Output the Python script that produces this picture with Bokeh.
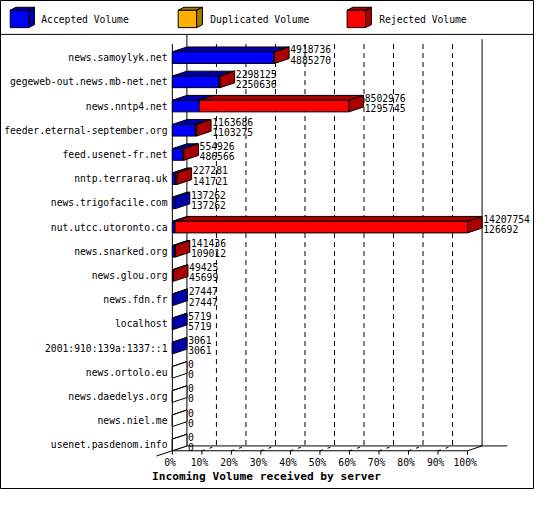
from bokeh.plotting import figure
from bokeh.models import Range1d, Span
from bokeh.core.properties import value
from bokeh.embed import file_html
from bokeh.resources import INLINE

# ---------------- data ----------------
servers = ["news.samoylyk.net", "gegeweb-out.news.mb-net.net", "news.nntp4.net",
           "feeder.eternal-september.org", "feed.usenet-fr.net", "nntp.terraraq.uk",
           "news.trigofacile.com", "nut.utcc.utoronto.ca", "news.snarked.org",
           "news.glou.org", "news.fdn.fr", "localhost", "2001:910:139a:1337::1",
           "news.ortolo.eu", "news.daedelys.org", "news.niel.me", "usenet.pasdenom.info"]
total_volume = [4918736, 2298125, 8502976, 1163686, 554926, 227281, 137262, 14207754,
                141436, 49425, 27447, 5719, 3061, 0, 0, 0, 0]
accepted_volume = [4885270, 2250636, 1295745, 1103275, 486566, 141721, 137262, 126692,
                   109012, 45699, 27447, 5719, 3061, 0, 0, 0, 0]
tick_values = [0, 10, 20, 30, 40, 50, 60, 70, 80, 90, 100]
tick_labels = [f"{v}%" for v in tick_values]
series_names = ["Accepted Volume", "Duplicated Volume", "Rejected Volume"]
chart_title = "Incoming Volume received by server"

# ---------------- style / geometry ----------------
W, H = 534, 489
REF_W, REF_H = 550, 505
SCALE = W / REF_W
X0, PX_PER_PCT = 177.0, 3.04
ROW0, PITCH = 59.0, 25.0


def fx(px):
    return (px - X0) / PX_PER_PCT


def fy(py):
    return (py - ROW0) / PITCH


DX = 15 / PX_PER_PCT
DY = -5 / PITCH
HALF = 6 / PITCH
FONT = value("DejaVu Sans Mono")
FS = f"{10 * SCALE:.1f}px"

BLUE, DBLUE = "#0000FF", "#0000AA"
ORANGE, DORANGE = "#FFB000", "#A87800"
RED, DRED = "#FF0000", "#AA0000"
face_colors = [(BLUE, DBLUE), (ORANGE, DORANGE), (RED, DRED)]

p = figure(width=W, height=H,
           x_range=Range1d(fx(0), fx(REF_W)),
           y_range=Range1d(fy(REF_H), fy(0)),
           output_backend="svg", toolbar_location=None,
           x_axis_location=None, y_axis_location=None,
           min_border=0, outline_line_color="black", outline_line_width=1,
           background_fill_color="white", border_fill_color="white")
p.grid.visible = False

yff = fy(465)          # front floor
yfb = yff + DY         # back floor
ytop_front = fy(45)

# back wall dashed grid
inner = tick_values[1:-1]
p.segment(x0=[t + DX for t in inner], y0=[ytop_front] * len(inner),
          x1=[t + DX for t in inner], y1=[yfb] * len(inner),
          line_color="black", line_width=1, line_dash="5 4")
# floor diagonals (dashed)
p.segment(x0=inner, y0=[yff] * len(inner), x1=[t + DX for t in inner], y1=[yfb] * len(inner),
          line_color="black", line_width=1, line_dash="3 5")

# frame lines
seg_x0 = [DX, tick_values[-1] + DX, DX, tick_values[0], tick_values[-1], -1.1 * DX, 0]
seg_y0 = [fy(35), fy(40), yfb, yff, yff, yff - 1.1 * DY, ytop_front]
seg_x1 = [DX, tick_values[-1] + DX, fx(522), tick_values[-1], tick_values[-1] + DX, DX, 0]
seg_y1 = [yfb, yfb, yfb, yff, yfb, yfb, yff]
p.segment(x0=seg_x0, y0=seg_y0, x1=seg_x1, y1=seg_y1, line_color="black", line_width=1)
# ticks
p.segment(x0=tick_values, y0=[yff] * len(tick_values), x1=tick_values,
          y1=[yff + 4 / PITCH] * len(tick_values), line_color="black", line_width=1)
p.text(x=[t - 0.8 for t in tick_values], y=[fy(477)] * len(tick_values), text=tick_labels,
       text_font=FONT, text_font_size=FS, text_align="center", text_baseline="middle",
       text_color="black")

# ---------------- bars ----------------
vmax = max(total_volume)
xs, ys, fills = [], [], []
for i, (t, a) in enumerate(zip(total_volume, accepted_volume)):
    pa = a / vmax * 100
    pt = t / vmax * 100
    yt, yb = i - HALF, i + HALF
    rejected = t - a
    # top faces
    xs.append([0, pa, pa + DX, DX]); ys.append([yt, yt, yt + DY, yt + DY]); fills.append(DBLUE if t > 0 else "white")
    if rejected > 0:
        xs.append([pa, pt, pt + DX, pa + DX]); ys.append([yt, yt, yt + DY, yt + DY]); fills.append(DRED)
    # front faces
    xs.append([0, pa, pa, 0]); ys.append([yt, yt, yb, yb]); fills.append(BLUE)
    if rejected > 0:
        xs.append([pa, pt, pt, pa]); ys.append([yt, yt, yb, yb]); fills.append(RED)
    # side face
    side = DRED if rejected > 0 else (DBLUE if t > 0 else "white")
    xs.append([pt, pt + DX, pt + DX, pt]); ys.append([yt, yt + DY, yb + DY, yb]); fills.append(side)

p.patches(xs=xs, ys=ys, fill_color=fills, line_color="black", line_width=1, line_join="miter")

# value labels
lab_x = [t / vmax * 100 + DX + 0.4 for t in total_volume]
p.text(x=lab_x, y=[i - 0.34 for i in range(len(servers))], text=[str(v) for v in total_volume],
       text_font=FONT, text_font_size=FS, text_baseline="middle", text_color="black")
p.text(x=lab_x, y=[i + 0.08 for i in range(len(servers))], text=[str(v) for v in accepted_volume],
       text_font=FONT, text_font_size=FS, text_baseline="middle", text_color="black")

# category labels
p.text(x=[fx(172)] * len(servers), y=list(range(len(servers))), text=servers,
       text_font=FONT, text_font_size=FS, text_align="right", text_baseline="middle",
       text_color="black")

# title
p.text(x=[fx(156)], y=[fy(492)], text=[chart_title], text_font=FONT,
       text_font_size=f"{11.5 * SCALE:.1f}px", text_font_style="bold",
       text_baseline="middle", text_color="black")

# ---------------- legend ----------------
p.add_layout(Span(location=fy(35), dimension="width", line_color="black", line_width=1))
cube_x = [10, 183, 357]
text_x = [42, 216, 390]
lxs, lys, lfill = [], [], []
for cx, (front, dark) in zip(cube_x, face_colors):
    lxs.append([fx(cx), fx(cx + 19), fx(cx + 19), fx(cx)]); lys.append([fy(10), fy(10), fy(28), fy(28)]); lfill.append(front)
    lxs.append([fx(cx), fx(cx + 19), fx(cx + 25), fx(cx + 6)]); lys.append([fy(10), fy(10), fy(7), fy(7)]); lfill.append(dark)
    lxs.append([fx(cx + 19), fx(cx + 25), fx(cx + 25), fx(cx + 19)]); lys.append([fy(10), fy(7), fy(25), fy(28)]); lfill.append(dark)
p.patches(xs=lxs, ys=lys, fill_color=lfill, line_color="black", line_width=1, line_join="miter")
p.text(x=[fx(v) for v in text_x], y=[fy(20)] * 3, text=series_names, text_font=FONT,
       text_font_size=FS, text_baseline="middle", text_color="black")

open("out.html", "w").write(file_html(p, INLINE))
